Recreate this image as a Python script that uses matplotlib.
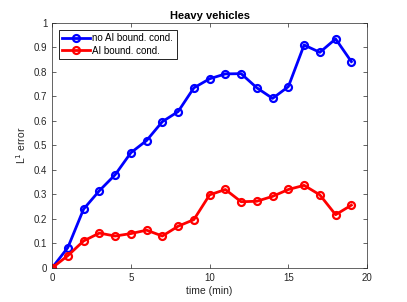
import numpy as np
import matplotlib
matplotlib.use("Agg")
import matplotlib.pyplot as plt

time_min = list(range(20))
no_ai_err = [0.0, 0.083, 0.24, 0.315, 0.38, 0.47, 0.52, 0.597, 0.638, 0.735,
             0.772, 0.792, 0.793, 0.735, 0.692, 0.74, 0.91, 0.88, 0.935, 0.842]
ai_err = [0.0, 0.05, 0.11, 0.142, 0.13, 0.14, 0.154, 0.13, 0.17, 0.197,
          0.298, 0.32, 0.27, 0.272, 0.292, 0.32, 0.337, 0.298, 0.217, 0.256]

plt.rcParams["font.family"] = ["Liberation Sans", "DejaVu Sans"]

fig = plt.figure(figsize=(4.07, 3.02), dpi=100)
ax = fig.add_axes([0.128, 0.113, 0.774, 0.811])

ax.plot(time_min, no_ai_err, color="#0000ff", lw=2, marker="o", ms=5,
        mfc="none", mew=1.6, label="no AI bound. cond.")
ax.plot(time_min, ai_err, color="#ff0000", lw=2, marker="o", ms=5,
        mfc="none", mew=1.6, label="AI bound. cond.")

ax.set_xlim(0, 20)
ax.set_ylim(0, 1)
ax.set_xticks(np.arange(0, 21, 5))
ax.set_yticks(np.arange(0, 1.01, 0.1))
ax.set_yticklabels(["0"] + [f"{v:.1f}" for v in np.arange(0.1, 0.95, 0.1)] + ["1"])
ax.tick_params(direction="in", top=True, right=True, labelsize=7,
               colors="#262626", length=3, width=0.5)
for s in ax.spines.values():
    s.set_color("#262626")
    s.set_linewidth(0.5)

ax.set_title("Heavy vehicles", fontsize=8, fontweight="bold", pad=3)
ax.set_xlabel("time (min)", fontsize=7.5, color="#262626", labelpad=2)
ax.set_ylabel("L$^1$ error", fontsize=7.5, color="#262626", labelpad=4)

leg = ax.legend(loc="upper left", fontsize=7, fancybox=False, framealpha=1,
                edgecolor="black", borderaxespad=0.7, handlelength=2.8,
                borderpad=0.35, labelspacing=0.25, handletextpad=0.3)
leg.get_frame().set_linewidth(0.6)

fig.savefig("out.png", dpi=100)
